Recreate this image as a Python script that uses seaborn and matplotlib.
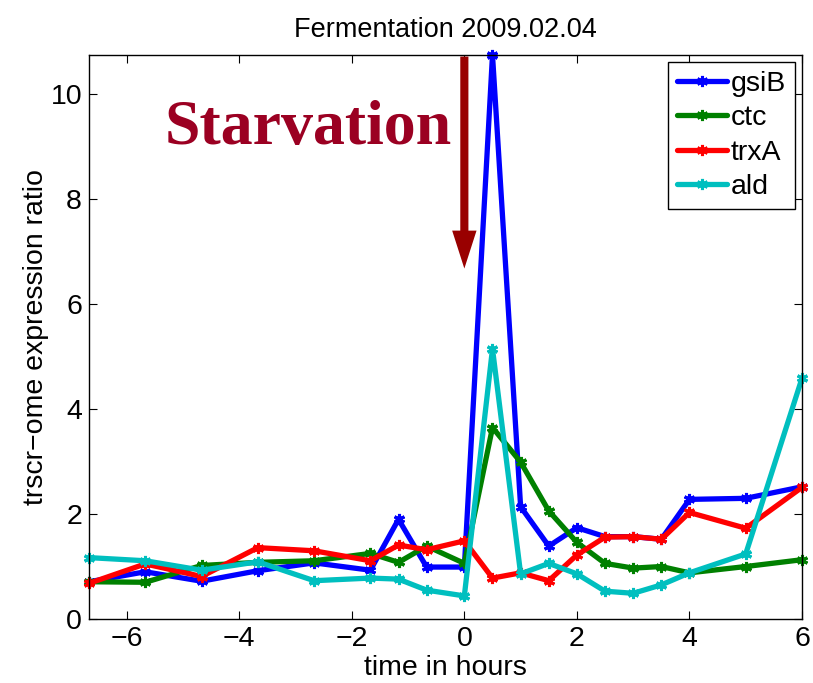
import matplotlib
matplotlib.use("Agg")
import matplotlib.pyplot as plt
import seaborn as sns
import pandas as pd

hours = [-6.67, -5.67, -4.67, -3.67, -2.67, -1.67, -1.17, -0.67, 0.0,
         0.5, 1.0, 1.5, 2.0, 2.5, 3.0, 3.5, 4.0, 5.0, 6.0]
gsiB = [0.71, 0.90, 0.72, 0.92, 1.07, 0.93, 1.90, 0.99, 0.99,
        10.75, 2.14, 1.39, 1.74, 1.57, 1.57, 1.52, 2.28, 2.30, 2.52]
ctc = [0.71, 0.70, 1.02, 1.08, 1.11, 1.25, 1.08, 1.39, 1.06,
       3.65, 2.99, 2.06, 1.46, 1.06, 0.97, 1.00, 0.88, 1.00, 1.13]
trxA = [0.68, 1.05, 0.81, 1.36, 1.30, 1.11, 1.41, 1.32, 1.49,
        0.78, 0.88, 0.73, 1.22, 1.56, 1.57, 1.52, 2.03, 1.73, 2.51]
ald = [1.17, 1.11, 0.93, 1.09, 0.73, 0.78, 0.76, 0.55, 0.44,
       5.15, 0.86, 1.06, 0.86, 0.53, 0.49, 0.65, 0.88, 1.24, 4.59]
genes = ["gsiB", "ctc", "trxA", "ald"]
colors = ["#0000ff", "#008000", "#ff0000", "#00bfbf"]

sns.set_style("ticks")
plt.rcParams["font.family"] = ["Liberation Sans", "DejaVu Sans"]
plt.rcParams["text.color"] = "black"
plt.rcParams["axes.labelcolor"] = "black"
plt.rcParams["xtick.color"] = "black"
plt.rcParams["ytick.color"] = "black"

FS = 20.5

fig = plt.figure(figsize=(8.13, 6.83), dpi=100)
ax = fig.add_axes([89/813, 1 - 619/683, (802-89)/813, (619-55)/683])

for g, vals, c in zip(genes, [gsiB, ctc, trxA, ald], colors):
    df = pd.DataFrame({"time": hours, "ratio": vals})
    sns.lineplot(data=df, x="time", y="ratio", color=c, sort=False,
                 estimator=None, marker=(6, 2, 0), markersize=8,
                 markeredgewidth=2.2, markeredgecolor=c, markerfacecolor=c,
                 linewidth=3.8, ax=ax, label=g, clip_on=False)

ax.set_xlim(-6.67, 6)
ax.set_ylim(0, 10.75)
ax.set_xticks([-6, -4, -2, 0, 2, 4, 6])
ax.set_xticklabels(["\u22126", "\u22124", "\u22122", "0", "2", "4", "6"])
ax.set_yticks([0, 2, 4, 6, 8, 10])
ax.tick_params(direction="in", top=True, right=True, labelsize=FS, length=6,
               width=0.8, pad=5)
for s in ax.spines.values():
    s.set_linewidth(1.0)
    s.set_color("black")

ax.set_title("Fermentation 2009.02.04", fontsize=19.5, pad=13)
ax.set_xlabel("time in hours", fontsize=FS, labelpad=2)
ax.set_ylabel("trscr\u2212ome expression ratio", fontsize=FS, labelpad=1)

ax.text(-5.33, 9.05, "Starvation", family=["Liberation Serif", "DejaVu Serif"],
        fontweight="bold", fontsize=46, color="#9b0022", ha="left",
        va="baseline")
ax.annotate("", xy=(0, 6.68), xytext=(0, 10.72),
            arrowprops=dict(arrowstyle="simple,head_width=1.35,head_length=2.1,tail_width=0.45",
                            color="#990000", lw=0, mutation_scale=13,
                            shrinkA=0, shrinkB=0))

leg = ax.legend(loc="upper right", fontsize=FS, frameon=True, fancybox=False,
                edgecolor="black", borderaxespad=0.25, handlelength=1.75,
                handletextpad=0.15, labelspacing=0.3, borderpad=0.3,
                framealpha=1)
leg.get_frame().set_linewidth(1.0)

fig.savefig("out.png", dpi=100)
